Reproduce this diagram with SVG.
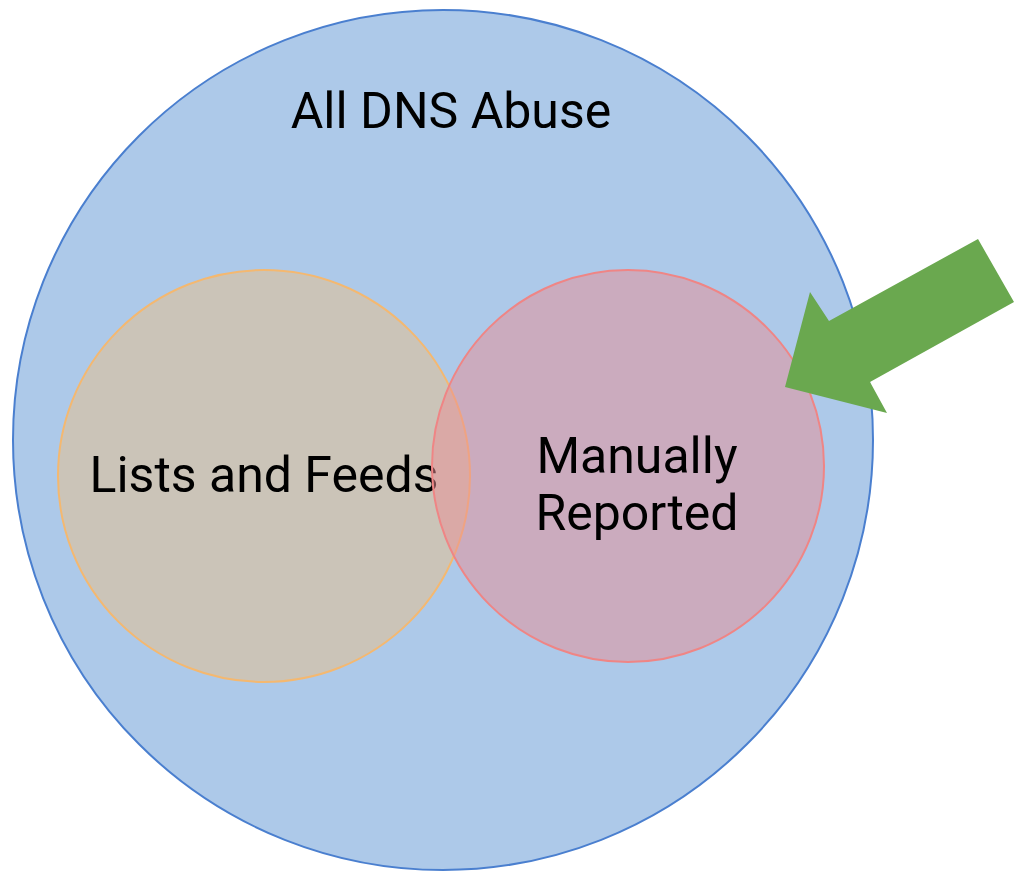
<svg xmlns="http://www.w3.org/2000/svg" width="1014" height="872" viewBox="0 0 1014 872">
<style>
text{font-family:Roboto,"Liberation Sans",sans-serif;font-size:50px;fill:#000;text-anchor:middle}
</style>
<rect width="1014" height="872" fill="#fff"/>
<g id="all">
<circle cx="443" cy="440" r="430" fill="#adc9e9" stroke="#4a7fcf" stroke-width="2"/>
<text x="451" y="128">All DNS Abuse</text>
</g>
<g id="lists">
<circle cx="264" cy="476" r="206" fill="#e9c088" fill-opacity="0.5" stroke="#f4b870" stroke-width="2"/>
<text x="264" y="492">Lists and Feeds</text>
</g>
<g id="manual">
<circle cx="628" cy="466" r="196" fill="#e98e94" fill-opacity="0.5" stroke="#ef8585" stroke-width="2"/>
<text x="637" y="473">Manually</text>
<text x="637" y="530">Reported</text>
</g>
<g id="connectors">
<polygon points="978,239 1014,302 870,382 887,413 785,387 810,292 829,321" fill="#6aa84f"/>
</g>
</svg>
